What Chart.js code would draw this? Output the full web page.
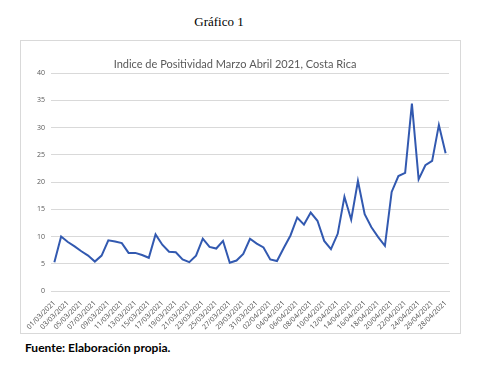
<!DOCTYPE html>
<html>
<head>
<meta charset="utf-8">
<script src="https://cdn.jsdelivr.net/npm/chart.js@4/dist/chart.umd.min.js"></script>
<style>
  body { margin: 0; background: #fff; width: 488px; height: 365px; position: relative; overflow: hidden; }
  #caption { position: absolute; left: 0; width: 438px; top: 14px; text-align: center;
    font: 13px "Liberation Serif", "Times New Roman", serif; color: #000; }
  #box { position: absolute; left: 20px; top: 40px; width: 439px; height: 292px; border: 1px solid #d9d9d9; }
  #source { position: absolute; left: 25px; top: 340px; font: bold 12px Lato, "Open Sans", sans-serif; color: #000; }
</style>
</head>
<body>
<div id="caption">Gráfico 1</div>
<div id="box"><canvas id="chart" width="439" height="292"></canvas></div>
<div id="source">Fuente: Elaboración propia.</div>
<script>
// Fechas: 01/03/2021 .. 28/04/2021
const dates = [];
for (let d = 1; d <= 31; d++) dates.push(String(d).padStart(2, '0') + '/03/2021');
for (let d = 1; d <= 28; d++) dates.push(String(d).padStart(2, '0') + '/04/2021');

// Índice de positividad (%)
const positividad = [
  5.3, 10.0, 9.0, 8.2, 7.3, 6.5, 5.4, 6.5, 9.3, 9.1,
  8.8, 7.0, 7.0, 6.6, 6.1, 10.4, 8.5, 7.2, 7.1, 5.8,
  5.3, 6.5, 9.6, 8.1, 7.8, 9.2, 5.2, 5.6, 6.8, 9.6,
  8.7, 8.0, 5.8, 5.5, 7.9, 10.2, 13.5, 12.2, 14.4, 12.9,
  9.2, 7.7, 10.5, 17.3, 13.1, 20.2, 14.1, 11.7, 9.9, 8.3,
  18.2, 21.1, 21.7, 34.4, 20.5, 23.1, 23.9, 30.5, 25.3
];

const yTicks = { min: 0, max: 40, step: 5 };

const ctx = document.getElementById('chart').getContext('2d');
new Chart(ctx, {
  type: 'line',
  data: {
    labels: dates,
    datasets: [{
      data: positividad,
      borderColor: '#3259b0',
      borderWidth: 2,
      pointRadius: 0,
      tension: 0,
      fill: false
    }]
  },
  options: {
    responsive: false,
    animation: false,
    layout: { padding: { left: 0, right: 11, top: 0, bottom: 0 } },
    plugins: {
      legend: { display: false },
      tooltip: { enabled: false },
      title: {
        display: true,
        text: 'Indice de Positividad Marzo Abril 2021, Costa Rica',
        color: '#595959',
        font: { family: 'Lato, "Open Sans", sans-serif', size: 11, weight: 'normal' },
        padding: { top: 17, bottom: 2 }
      }
    },
    scales: {
      x: {
        offset: true,
        grid: { display: false },
        border: { display: true, color: '#d9d9d9' },
        ticks: {
          autoSkip: false,
          maxRotation: 45,
          minRotation: 45,
          padding: 0,
          color: '#4d4d4d',
          font: { family: '"Open Sans", sans-serif', size: 7 },
          callback: function (v, i) { return i % 2 === 0 ? this.getLabelForValue(v) : ''; }
        },
        afterFit: s => { s.height = 42; }
      },
      y: {
        min: yTicks.min,
        max: yTicks.max,
        grid: { color: '#d9d9d9', drawTicks: false },
        border: { display: false },
        ticks: {
          stepSize: yTicks.step,
          padding: 6,
          color: '#595959',
          font: { family: '"Open Sans", sans-serif', size: 7 }
        },
        afterFit: s => { s.width = 30; }
      }
    }
  }
});
</script>
</body>
</html>
